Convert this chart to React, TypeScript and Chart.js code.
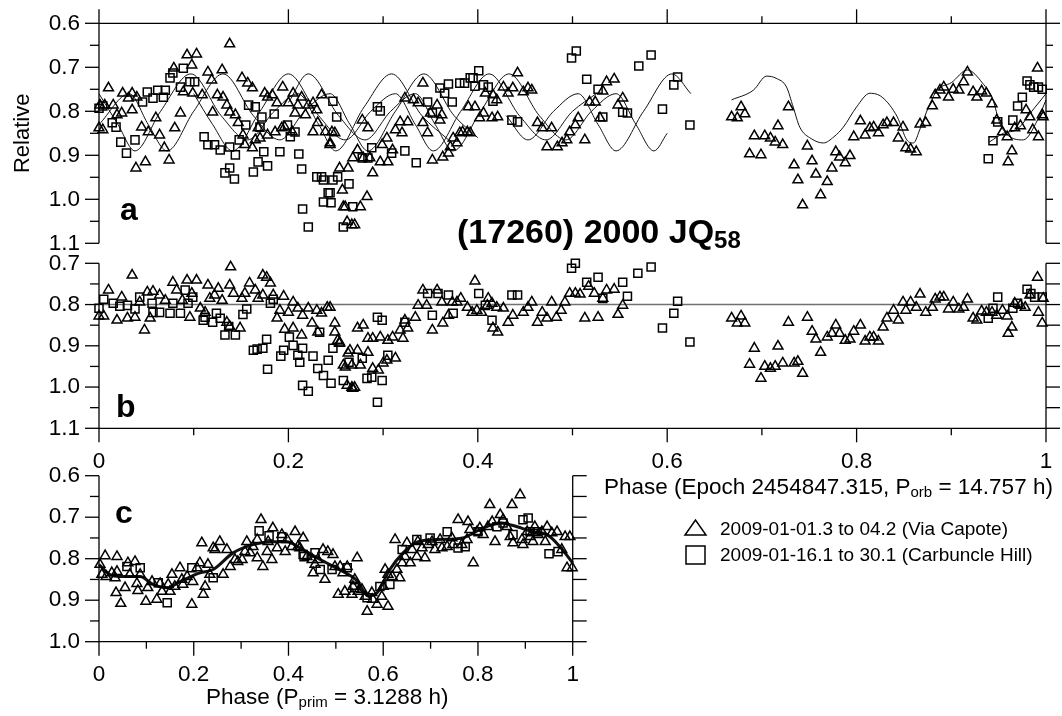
import React, { useEffect, useRef } from 'react';
import { Chart, registerables } from 'chart.js';

Chart.register(...registerables);

type Pt = [number, number];

const PAGE_W = 1062;
const PAGE_H = 716;
const FONT = "'Liberation Sans', Arial, Helvetica, sans-serif";

const seriesNames = ['2009-01-01.3 to 04.2 (Via Capote)', '2009-01-16.1 to 30.1 (Carbuncle Hill)'];
const titleMain = '(17260) 2000 JQ';
const titleSub = '58';
const yAxisTitle = 'Relative';
const panelLetters = ['a', 'b', 'c'];

const xMajorTicks = [0, 0.2, 0.4, 0.6, 0.8, 1];
const xTickLabels = ['0', '0.2', '0.4', '0.6', '0.8', '1'];
const xMinorTicks = [0.1, 0.3, 0.5, 0.7, 0.9];

const aYMajor = [0.6, 0.7, 0.8, 0.9, 1.0, 1.1];
const aYLabels = ['0.6', '0.7', '0.8', '0.9', '1.0', '1.1'];
const aYMinor = [0.65, 0.75, 0.85, 0.95, 1.05];
const bYMajor = [0.7, 0.8, 0.9, 1.0, 1.1];
const bYLabels = ['0.7', '0.8', '0.9', '1.0', '1.1'];
const bYMinor = [0.75, 0.85, 0.95, 1.05];
const cYMajor = [0.6, 0.7, 0.8, 0.9, 1.0];
const cYLabels = ['0.6', '0.7', '0.8', '0.9', '1.0'];
const cYMinor = [0.65, 0.75, 0.85, 0.95];
const bReferenceLevel = 0.8;

// ---------- Panel a: orbital phase, raw data ----------
const aTriangles: Pt[] = [
  [0.001, 0.786], [0.006, 0.786], [0.010, 0.747], [0.000, 0.838], [0.004, 0.842], [0.015, 0.786], [0.019, 0.808],
  [0.024, 0.804], [0.025, 0.759], [0.031, 0.770], [0.035, 0.759], [0.035, 0.797], [0.040, 0.768], [0.045, 0.836],
  [0.039, 0.929], [0.049, 0.915], [0.052, 0.847], [0.060, 0.815], [0.064, 0.854], [0.069, 0.883], [0.074, 0.911],
  [0.080, 0.838], [0.079, 0.702], [0.086, 0.804], [0.093, 0.672], [0.103, 0.670], [0.098, 0.695], [0.089, 0.756],
  [0.099, 0.759], [0.109, 0.763], [0.115, 0.711], [0.119, 0.729], [0.120, 0.802], [0.130, 0.706], [0.138, 0.647],
  [0.125, 0.763], [0.131, 0.768], [0.135, 0.786], [0.138, 0.802], [0.144, 0.808], [0.151, 0.724], [0.157, 0.736],
  [0.162, 0.747], [0.147, 0.826], [0.152, 0.854], [0.154, 0.876], [0.162, 0.883], [0.165, 0.865], [0.168, 0.838],
  [0.175, 0.759], [0.178, 0.768], [0.183, 0.763], [0.188, 0.781], [0.194, 0.745], [0.200, 0.781], [0.205, 0.759],
  [0.207, 0.804], [0.210, 0.786], [0.214, 0.768], [0.218, 0.808], [0.221, 0.786], [0.226, 0.781], [0.230, 0.797],
  [0.231, 0.826], [0.235, 0.763], [0.239, 0.847], [0.244, 0.876], [0.246, 0.847], [0.254, 0.929], [0.257, 0.979],
  [0.258, 1.017], [0.204, 0.847], [0.193, 0.838], [0.186, 0.847], [0.178, 0.854], [0.170, 0.861], [0.196, 0.836],
  [0.226, 0.847],
  [0.244, 0.872], [0.249, 0.849], [0.263, 0.929], [0.260, 1.017], [0.276, 1.017], [0.283, 0.994], [0.262, 1.051],
  [0.267, 1.058], [0.270, 1.058], [0.268, 0.906], [0.273, 0.888], [0.279, 0.906], [0.286, 0.906], [0.289, 0.940],
  [0.297, 0.915], [0.299, 0.876], [0.305, 0.915], [0.304, 0.861], [0.310, 0.888], [0.313, 0.842], [0.320, 0.849],
  [0.318, 0.824], [0.278, 0.820], [0.284, 0.838], [0.323, 0.770], [0.326, 0.824], [0.332, 0.774], [0.337, 0.781],
  [0.342, 0.736], [0.342, 0.826], [0.350, 0.804], [0.347, 0.849], [0.352, 0.911], [0.357, 0.786], [0.360, 0.820],
  [0.362, 0.808], [0.363, 0.904], [0.369, 0.895], [0.371, 0.881], [0.374, 0.861], [0.378, 0.872], [0.381, 0.849],
  [0.384, 0.847], [0.389, 0.847], [0.392, 0.849], [0.390, 0.790], [0.397, 0.790], [0.402, 0.815], [0.406, 0.804],
  [0.408, 0.759], [0.415, 0.815], [0.416, 0.763], [0.421, 0.813], [0.420, 0.774], [0.427, 0.745], [0.432, 0.759],
  [0.437, 0.747], [0.442, 0.713], [0.448, 0.756], [0.453, 0.747], [0.457, 0.752], [0.463, 0.826], [0.468, 0.838],
  [0.478, 0.838], [0.473, 0.881], [0.484, 0.881], [0.489, 0.872], [0.494, 0.865], [0.497, 0.847], [0.503, 0.831],
  [0.506, 0.815], [0.513, 0.865], [0.518, 0.779], [0.524, 0.779], [0.529, 0.815], [0.536, 0.733], [0.544, 0.727],
  [0.532, 0.754], [0.548, 0.786], [0.553, 0.770],
  [0.668, 0.813], [0.674, 0.815], [0.678, 0.790], [0.682, 0.806], [0.687, 0.897], [0.692, 0.856], [0.699, 0.899],
  [0.703, 0.856], [0.709, 0.861], [0.714, 0.870], [0.717, 0.833], [0.722, 0.876], [0.728, 0.790], [0.734, 0.922],
  [0.738, 0.956], [0.743, 1.013], [0.748, 0.879], [0.753, 0.913], [0.757, 0.943], [0.762, 0.990], [0.769, 0.960],
  [0.774, 0.929], [0.778, 0.892], [0.782, 0.904], [0.788, 0.917], [0.793, 0.901], [0.797, 0.858], [0.804, 0.822],
  [0.809, 0.854], [0.814, 0.838], [0.818, 0.836], [0.823, 0.849], [0.828, 0.831], [0.832, 0.826], [0.839, 0.826],
  [0.844, 0.861], [0.849, 0.836], [0.852, 0.883], [0.857, 0.886], [0.863, 0.892], [0.867, 0.829], [0.873, 0.826],
  [0.880, 0.788], [0.883, 0.763], [0.888, 0.752], [0.892, 0.745], [0.897, 0.768], [0.902, 0.750], [0.908, 0.752],
  [0.913, 0.733], [0.917, 0.711], [0.923, 0.756], [0.927, 0.768], [0.932, 0.754], [0.937, 0.759], [0.943, 0.783],
  [0.948, 0.820], [0.954, 0.847], [0.959, 0.858], [0.964, 0.890], [0.960, 0.915], [0.967, 0.838], [0.973, 0.833],
  [0.979, 0.797], [0.983, 0.813], [0.986, 0.842], [0.991, 0.702], [0.992, 0.858], [0.996, 0.808], [0.997, 0.813],
];

const aSquares: Pt[] = [
  [0.000, 0.793], [0.004, 0.788], [0.014, 0.826], [0.018, 0.836], [0.023, 0.870], [0.029, 0.895], [0.038, 0.865],
  [0.051, 0.756], [0.046, 0.779], [0.057, 0.770], [0.062, 0.752], [0.068, 0.768], [0.070, 0.752], [0.075, 0.724],
  [0.078, 0.713], [0.086, 0.745], [0.089, 0.702], [0.096, 0.733], [0.101, 0.733], [0.111, 0.858], [0.115, 0.876],
  [0.122, 0.876], [0.128, 0.888], [0.133, 0.940], [0.138, 0.929], [0.143, 0.954], [0.138, 0.881], [0.144, 0.899],
  [0.148, 0.865], [0.155, 0.831], [0.158, 0.786], [0.165, 0.790], [0.163, 0.938], [0.168, 0.915], [0.172, 0.813],
  [0.170, 0.836], [0.174, 0.892], [0.178, 0.924], [0.185, 0.806], [0.191, 0.892], [0.199, 0.831], [0.202, 0.858],
  [0.207, 0.847], [0.211, 0.897], [0.214, 0.931], [0.215, 1.022], [0.221, 1.063], [0.230, 0.949], [0.235, 0.949],
  [0.237, 0.956], [0.242, 0.985], [0.237, 1.006], [0.245, 1.008], [0.247, 0.956], [0.264, 0.965], [0.258, 1.063],
  [0.268, 1.017], [0.251, 0.813], [0.247, 0.777], [0.244, 0.985], [0.252, 0.949], [0.278, 0.906], [0.284, 0.906],
  [0.288, 0.883], [0.294, 0.790], [0.297, 0.799], [0.309, 0.895], [0.323, 0.890], [0.335, 0.917], [0.347, 0.779],
  [0.352, 0.804], [0.360, 0.747], [0.365, 0.759], [0.369, 0.738], [0.373, 0.779], [0.381, 0.736], [0.386, 0.736],
  [0.392, 0.724], [0.395, 0.724], [0.401, 0.708], [0.397, 0.743], [0.406, 0.740], [0.411, 0.745], [0.416, 0.777],
  [0.436, 0.820], [0.442, 0.824], [0.499, 0.679], [0.504, 0.663], [0.515, 0.727], [0.527, 0.750], [0.532, 0.813],
  [0.553, 0.802], [0.558, 0.804], [0.570, 0.697], [0.583, 0.672], [0.595, 0.795], [0.607, 0.740], [0.611, 0.722],
  [0.624, 0.831], [0.939, 0.908], [0.944, 0.867], [0.949, 0.824], [0.965, 0.820], [0.970, 0.788], [0.975, 0.768],
  [0.980, 0.731], [0.983, 0.740], [0.987, 0.745], [0.996, 0.750], [0.992, 0.745],
];

// model lightcurves of the primary, one per night
const aCurve1: Pt[] = [
  [0, 0.76], [0.02, 0.83], [0.038, 0.89], [0.065, 0.8], [0.097, 0.715], [0.129, 0.81], [0.157, 0.865], [0.185, 0.8],
  [0.21, 0.76], [0.232, 0.83], [0.25, 0.89], [0.28, 0.79], [0.309, 0.715], [0.341, 0.81], [0.369, 0.865],
];
const aCurve2: Pt[] = [
  [0, 0.83], [0.032, 0.76], [0.052, 0.83], [0.072, 0.89], [0.1, 0.8], [0.131, 0.715], [0.163, 0.81], [0.191, 0.865],
  [0.217, 0.8], [0.244, 0.76], [0.265, 0.83], [0.284, 0.89], [0.313, 0.8], [0.343, 0.715], [0.375, 0.81], [0.4, 0.86],
];
const aCurve3: Pt[] = [
  [0.1, 0.76], [0.12, 0.83], [0.141, 0.89], [0.17, 0.8], [0.2, 0.715], [0.232, 0.81], [0.26, 0.865], [0.287, 0.8],
  [0.313, 0.76], [0.334, 0.83], [0.353, 0.89], [0.382, 0.8], [0.412, 0.715], [0.444, 0.81], [0.472, 0.865],
  [0.5, 0.8], [0.525, 0.76],
];
const aCurve4: Pt[] = [
  [0.2, 0.78], [0.221, 0.715], [0.253, 0.81], [0.281, 0.865], [0.308, 0.8], [0.334, 0.76], [0.355, 0.83],
  [0.374, 0.89], [0.403, 0.8], [0.433, 0.715], [0.465, 0.81], [0.493, 0.865], [0.52, 0.8], [0.546, 0.76],
  [0.567, 0.83], [0.586, 0.89], [0.6, 0.85],
];
const aCurve5: Pt[] = [
  [0.43, 0.81], [0.453, 0.865], [0.48, 0.8], [0.506, 0.76], [0.527, 0.83], [0.546, 0.89], [0.575, 0.8],
  [0.605, 0.715], [0.625, 0.76],
];
const aCurve6: Pt[] = [
  [0.668, 0.774], [0.691, 0.752], [0.705, 0.72], [0.715, 0.725], [0.726, 0.745], [0.733, 0.79], [0.74, 0.836],
  [0.752, 0.862], [0.765, 0.872], [0.776, 0.858], [0.786, 0.836], [0.8, 0.79], [0.814, 0.759], [0.827, 0.768],
  [0.843, 0.813], [0.853, 0.865], [0.86, 0.872], [0.867, 0.84], [0.876, 0.79], [0.885, 0.752], [0.9, 0.735],
  [0.917, 0.706], [0.933, 0.736], [0.944, 0.774], [0.951, 0.826], [0.962, 0.858], [0.976, 0.865], [0.991, 0.82],
  [1.0, 0.774],
];
const aCurve7: Pt[] = [
  [0.94, 0.87], [0.955, 0.85], [0.97, 0.84], [0.985, 0.8], [1.0, 0.76],
];

// ---------- Panel b: primary removed ----------
const bTriangles: Pt[] = [
  [0.000, 0.828], [0.005, 0.828], [0.010, 0.765], [0.019, 0.838], [0.024, 0.782], [0.030, 0.833], [0.035, 0.729],
  [0.038, 0.831], [0.043, 0.794], [0.048, 0.862], [0.051, 0.770], [0.054, 0.833], [0.057, 0.768], [0.064, 0.777],
  [0.070, 0.790], [0.078, 0.746], [0.082, 0.765], [0.088, 0.790], [0.093, 0.741], [0.096, 0.831], [0.098, 0.773],
  [0.103, 0.741], [0.107, 0.809], [0.112, 0.819], [0.115, 0.753], [0.117, 0.785], [0.122, 0.777], [0.126, 0.761],
  [0.130, 0.790], [0.135, 0.843], [0.138, 0.853], [0.139, 0.709], [0.138, 0.753], [0.142, 0.773], [0.149, 0.857],
  [0.151, 0.785], [0.154, 0.773], [0.159, 0.748], [0.165, 0.765], [0.168, 0.785], [0.173, 0.729], [0.177, 0.734],
  [0.181, 0.748], [0.184, 0.777], [0.173, 0.777], [0.188, 0.833], [0.191, 0.814], [0.195, 0.780], [0.196, 0.860],
  [0.200, 0.819], [0.205, 0.794], [0.205, 0.857], [0.210, 0.809], [0.214, 0.874], [0.215, 0.826], [0.221, 0.809],
  [0.225, 0.845], [0.230, 0.814], [0.231, 0.867], [0.235, 0.821], [0.241, 0.807], [0.244, 0.807], [0.249, 0.845],
  [0.249, 0.867], [0.252, 0.887], [0.254, 0.894], [0.260, 0.952], [0.263, 0.918], [0.267, 0.947], [0.262, 0.996],
  [0.267, 1.001], [0.270, 1.001], [0.273, 0.857],
  [0.254, 0.891], [0.258, 0.947], [0.268, 1.003], [0.265, 0.911], [0.273, 0.911], [0.279, 0.850], [0.276, 0.947],
  [0.284, 0.882], [0.284, 0.916], [0.289, 0.882], [0.289, 0.955], [0.295, 0.959], [0.297, 0.879], [0.300, 0.942],
  [0.304, 0.935], [0.305, 0.887], [0.313, 0.930], [0.310, 0.879], [0.318, 0.862], [0.321, 0.882], [0.323, 0.838],
  [0.326, 0.857], [0.334, 0.831], [0.337, 0.802], [0.342, 0.765], [0.346, 0.802], [0.352, 0.862], [0.357, 0.765],
  [0.362, 0.794], [0.363, 0.845], [0.369, 0.826], [0.373, 0.794], [0.378, 0.794], [0.382, 0.785], [0.389, 0.807],
  [0.394, 0.819], [0.397, 0.743], [0.399, 0.814], [0.404, 0.819], [0.410, 0.802], [0.411, 0.785], [0.415, 0.797],
  [0.416, 0.857], [0.420, 0.807], [0.421, 0.867], [0.427, 0.809], [0.432, 0.843], [0.437, 0.826], [0.448, 0.819],
  [0.453, 0.807], [0.457, 0.794], [0.463, 0.843], [0.468, 0.819], [0.473, 0.833], [0.478, 0.794], [0.483, 0.831],
  [0.488, 0.814], [0.492, 0.794], [0.497, 0.773], [0.503, 0.773], [0.508, 0.775], [0.513, 0.833], [0.517, 0.756],
  [0.523, 0.773], [0.527, 0.831], [0.532, 0.785], [0.536, 0.765], [0.544, 0.763], [0.548, 0.824], [0.553, 0.802],
  [0.668, 0.833], [0.674, 0.845], [0.678, 0.828], [0.682, 0.845], [0.687, 0.945], [0.692, 0.906], [0.699, 0.979],
  [0.703, 0.950], [0.709, 0.955], [0.714, 0.950], [0.717, 0.901], [0.722, 0.942], [0.728, 0.843], [0.734, 0.942],
  [0.738, 0.938], [0.743, 0.967], [0.748, 0.831], [0.753, 0.865], [0.757, 0.884], [0.762, 0.916], [0.769, 0.879],
  [0.774, 0.870], [0.778, 0.850], [0.782, 0.870], [0.788, 0.887], [0.793, 0.884], [0.797, 0.865], [0.804, 0.850],
  [0.809, 0.889], [0.814, 0.879], [0.818, 0.879], [0.823, 0.889], [0.828, 0.855], [0.832, 0.833], [0.839, 0.814],
  [0.844, 0.838], [0.849, 0.794], [0.852, 0.814], [0.857, 0.794], [0.863, 0.807], [0.867, 0.775], [0.873, 0.819],
  [0.880, 0.807], [0.883, 0.787], [0.888, 0.782], [0.892, 0.782], [0.897, 0.811], [0.902, 0.794], [0.908, 0.811],
  [0.913, 0.807], [0.917, 0.787], [0.923, 0.833], [0.927, 0.838], [0.932, 0.816], [0.937, 0.819], [0.943, 0.819],
  [0.948, 0.826], [0.954, 0.814], [0.959, 0.828], [0.960, 0.870], [0.964, 0.855], [0.967, 0.797], [0.973, 0.802],
  [0.978, 0.807], [0.983, 0.777], [0.991, 0.734], [0.992, 0.819], [0.996, 0.845], [0.997, 0.785],
];

const bSquares: Pt[] = [
  [0.000, 0.809], [0.005, 0.787], [0.015, 0.797], [0.022, 0.804], [0.030, 0.802], [0.038, 0.811], [0.043, 0.782],
  [0.056, 0.797], [0.057, 0.819], [0.064, 0.819], [0.075, 0.821], [0.078, 0.797], [0.086, 0.821], [0.091, 0.765],
  [0.094, 0.797], [0.099, 0.782], [0.110, 0.838], [0.112, 0.831], [0.120, 0.843], [0.124, 0.821], [0.128, 0.833],
  [0.133, 0.874], [0.137, 0.853], [0.144, 0.874], [0.152, 0.824], [0.156, 0.811], [0.163, 0.911], [0.167, 0.908],
  [0.173, 0.906], [0.177, 0.884], [0.178, 0.957], [0.184, 0.787], [0.181, 0.797], [0.192, 0.925], [0.195, 0.911],
  [0.201, 0.879], [0.205, 0.899], [0.210, 0.923], [0.212, 0.940], [0.215, 0.906], [0.215, 0.996], [0.221, 1.010],
  [0.226, 0.925], [0.231, 0.955], [0.237, 0.972], [0.242, 0.935], [0.245, 0.991], [0.247, 0.906], [0.258, 0.984],
  [0.264, 0.940], [0.233, 0.867], [0.278, 0.930], [0.283, 0.979], [0.288, 0.976], [0.294, 1.037], [0.299, 0.984],
  [0.294, 0.831], [0.299, 0.838], [0.305, 0.923], [0.323, 0.843], [0.347, 0.773], [0.352, 0.826], [0.358, 0.773],
  [0.369, 0.777], [0.374, 0.821], [0.401, 0.773], [0.408, 0.802], [0.415, 0.838], [0.436, 0.777], [0.442, 0.777],
  [0.499, 0.712], [0.503, 0.700], [0.515, 0.746], [0.527, 0.734], [0.532, 0.785], [0.553, 0.746], [0.558, 0.780],
  [0.569, 0.724], [0.583, 0.709], [0.595, 0.857], [0.607, 0.821], [0.611, 0.792], [0.624, 0.891], [0.939, 0.833],
  [0.944, 0.809], [0.949, 0.782], [0.965, 0.809], [0.970, 0.797], [0.980, 0.763], [0.984, 0.773], [0.988, 0.782],
  [0.996, 0.782],
];

// ---------- Panel c: primary rotation phase ----------
const cTriangles: Pt[] = [
  [0.002, 0.814], [0.013, 0.793], [0.006, 0.838], [0.015, 0.843], [0.027, 0.834], [0.038, 0.795], [0.038, 0.831],
  [0.034, 0.846], [0.036, 0.882], [0.046, 0.908], [0.055, 0.870], [0.061, 0.810], [0.065, 0.838], [0.076, 0.807],
  [0.080, 0.860], [0.082, 0.877], [0.087, 0.838], [0.099, 0.903], [0.103, 0.870], [0.112, 0.855], [0.122, 0.898],
  [0.129, 0.860], [0.133, 0.879], [0.146, 0.862], [0.150, 0.879], [0.154, 0.838], [0.160, 0.867], [0.171, 0.822],
  [0.175, 0.850], [0.177, 0.862], [0.186, 0.843], [0.196, 0.910], [0.198, 0.855], [0.207, 0.822], [0.213, 0.810],
  [0.217, 0.762], [0.220, 0.886], [0.224, 0.867], [0.230, 0.814], [0.234, 0.838], [0.241, 0.774], [0.245, 0.778],
  [0.255, 0.759], [0.262, 0.838], [0.270, 0.778], [0.277, 0.819], [0.287, 0.802], [0.293, 0.807], [0.302, 0.802],
  [0.308, 0.783], [0.312, 0.759], [0.319, 0.786], [0.325, 0.771], [0.334, 0.754], [0.342, 0.706], [0.334, 0.798],
  [0.346, 0.819], [0.355, 0.783], [0.357, 0.759], [0.365, 0.802], [0.367, 0.726], [0.376, 0.774], [0.386, 0.742],
  [0.393, 0.783], [0.397, 0.754], [0.407, 0.771], [0.414, 0.735], [0.420, 0.771], [0.431, 0.750], [0.439, 0.795],
  [0.450, 0.802], [0.456, 0.814], [0.452, 0.834],
  [0.424, 0.774], [0.462, 0.802], [0.473, 0.778], [0.477, 0.850], [0.483, 0.783], [0.494, 0.790], [0.498, 0.819],
  [0.509, 0.819], [0.515, 0.834], [0.524, 0.819], [0.505, 0.886], [0.519, 0.879], [0.534, 0.886], [0.536, 0.867],
  [0.545, 0.798], [0.540, 0.850], [0.547, 0.879], [0.555, 0.874], [0.562, 0.891], [0.566, 0.927], [0.576, 0.882],
  [0.578, 0.898], [0.587, 0.910], [0.597, 0.891], [0.600, 0.867], [0.610, 0.915], [0.604, 0.826], [0.610, 0.838],
  [0.619, 0.843], [0.625, 0.754], [0.629, 0.826], [0.635, 0.846], [0.640, 0.810], [0.646, 0.795], [0.650, 0.762],
  [0.657, 0.810], [0.661, 0.778], [0.671, 0.795], [0.673, 0.759], [0.682, 0.774], [0.688, 0.798], [0.695, 0.766],
  [0.703, 0.759], [0.709, 0.778], [0.720, 0.754], [0.724, 0.774], [0.735, 0.771], [0.745, 0.750], [0.747, 0.766],
  [0.758, 0.706], [0.766, 0.766], [0.777, 0.754], [0.779, 0.711], [0.783, 0.730], [0.790, 0.810], [0.798, 0.735],
  [0.804, 0.726], [0.811, 0.742], [0.821, 0.723], [0.825, 0.670], [0.830, 0.711], [0.836, 0.759], [0.847, 0.694],
  [0.853, 0.706], [0.861, 0.723], [0.868, 0.747], [0.872, 0.670], [0.874, 0.762], [0.889, 0.646], [0.893, 0.754],
  [0.895, 0.766], [0.904, 0.735], [0.910, 0.747], [0.916, 0.759], [0.920, 0.723], [0.927, 0.742], [0.935, 0.735],
  [0.942, 0.759], [0.946, 0.723], [0.956, 0.738], [0.967, 0.735], [0.977, 0.778], [0.984, 0.747], [0.988, 0.822],
  [0.994, 0.747], [0.999, 0.822],
];

const cSquares: Pt[] = [
  [0.059, 0.819], [0.087, 0.822], [0.144, 0.906], [0.196, 0.822], [0.241, 0.846], [0.338, 0.733], [0.359, 0.745],
  [0.386, 0.747], [0.433, 0.795], [0.125, 0.858], [0.431, 0.790], [0.456, 0.786], [0.467, 0.826], [0.492, 0.826],
  [0.524, 0.822], [0.540, 0.870], [0.566, 0.894], [0.593, 0.867], [0.614, 0.862], [0.640, 0.778], [0.671, 0.754],
  [0.699, 0.750], [0.735, 0.735], [0.758, 0.774], [0.773, 0.771], [0.800, 0.735], [0.840, 0.723], [0.853, 0.714],
  [0.895, 0.706], [0.906, 0.702], [0.874, 0.742], [0.910, 0.735], [0.925, 0.735], [0.950, 0.788], [0.969, 0.783],
];

const cFit: Pt[] = [
  [0.0, 0.814], [0.023, 0.838], [0.044, 0.843], [0.087, 0.843], [0.114, 0.862], [0.144, 0.87], [0.171, 0.855],
  [0.213, 0.834], [0.241, 0.826], [0.283, 0.786], [0.325, 0.766], [0.367, 0.759], [0.397, 0.759], [0.424, 0.774],
  [0.467, 0.802], [0.515, 0.831], [0.545, 0.853], [0.568, 0.89], [0.587, 0.882], [0.614, 0.826], [0.642, 0.786],
  [0.671, 0.76], [0.714, 0.754], [0.768, 0.75], [0.804, 0.73], [0.847, 0.714], [0.874, 0.72], [0.916, 0.735],
  [0.946, 0.742], [0.973, 0.771], [1.0, 0.81],
];

// ---------- helpers ----------
const toXY = (arr: Pt[]) => arr.map(([x, y]) => ({ x, y }));

const triangleSet = (data: Pt[], label: string) => ({
  label,
  data: toXY(data),
  pointStyle: 'triangle',
  pointRadius: 5.7,
  pointBorderWidth: 1.5,
  borderColor: '#000',
  pointBorderColor: '#000',
  pointBackgroundColor: 'rgba(0,0,0,0)',
  backgroundColor: 'rgba(0,0,0,0)',
  showLine: false,
  clip: false,
});
const squareSet = (data: Pt[], label: string) => ({
  ...triangleSet(data, label),
  pointStyle: 'rect',
  pointRadius: 5.7,
});
const curveSet = (data: Pt[], width: number) => ({
  label: 'model',
  data: toXY(data),
  showLine: true,
  pointRadius: 0,
  borderWidth: width,
  borderColor: '#111',
  backgroundColor: 'rgba(0,0,0,0)',
  cubicInterpolationMode: 'monotone',
  clip: false,
});

interface PanelSpec {
  name: string;
  top: number;
  bottom: number;
  right: number;
  yMin: number;
  yMax: number;
  yMajor: number[];
  yLabels: string[];
  yMinor: number[];
  showXLabels: boolean;
  xTicksUp: boolean;
  topLine: boolean;
  bottomLine: boolean;
  rightLen: number;
  rightEndLen: number;
  refLine?: number;
  yTitle?: string;
  datasets: any[];
}

const LEFT = 99;
const X_AXIS_H = 45;

function framePlugin(spec: PanelSpec) {
  const line = (ctx: CanvasRenderingContext2D, x1: number, y1: number, x2: number, y2: number) => {
    ctx.beginPath();
    ctx.moveTo(x1, y1);
    ctx.lineTo(x2, y2);
    ctx.stroke();
  };
  return {
    id: 'frame-' + spec.name,
    beforeDatasetsDraw(chart: any) {
      if (spec.refLine === undefined) return;
      const { ctx, chartArea, scales } = chart;
      const p = scales.y.getPixelForValue(spec.refLine);
      ctx.save();
      ctx.strokeStyle = '#707070';
      ctx.lineWidth = 1.6;
      line(ctx, chartArea.left, p, chartArea.right, p);
      ctx.restore();
    },
    afterDraw(chart: any) {
      const { ctx, chartArea, scales } = chart;
      const { left, right, top, bottom } = chartArea;
      const xs = scales.x;
      const ys = scales.y;
      ctx.save();
      ctx.strokeStyle = '#000';
      ctx.lineWidth = 1.3;
      line(ctx, left, top, left, bottom);
      line(ctx, right, top, right, bottom);
      if (spec.topLine) line(ctx, left, top, right, top);
      if (spec.bottomLine) line(ctx, left, bottom, right, bottom);
      spec.yMajor.forEach((v, i) => {
        const p = ys.getPixelForValue(v);
        line(ctx, left - 14, p, left, p);
        const isEnd = i === 0 || i === spec.yMajor.length - 1;
        line(ctx, right, p, right + (isEnd ? spec.rightEndLen : spec.rightLen), p);
      });
      spec.yMinor.forEach((v) => {
        const p = ys.getPixelForValue(v);
        line(ctx, left - 9, p, left, p);
        line(ctx, right, p, right + spec.rightLen, p);
      });
      const base = spec.xTicksUp ? top : bottom;
      const dir = spec.xTicksUp ? -1 : 1;
      xMajorTicks.forEach((v) => {
        const p = xs.getPixelForValue(v);
        line(ctx, p, base, p, base + dir * 14);
      });
      xMinorTicks.forEach((v) => {
        const p = xs.getPixelForValue(v);
        line(ctx, p, base, p, base + dir * 7);
      });
      ctx.restore();
    },
  };
}

function buildConfig(spec: PanelSpec): any {
  const tickFont = { family: FONT, size: 22.5 };
  return {
    type: 'scatter',
    data: { datasets: spec.datasets },
    options: {
      responsive: false,
      animation: false,
      devicePixelRatio: 1,
      events: [],
      layout: {
        padding: {
          left: 0,
          top: spec.top,
          right: PAGE_W - spec.right,
          bottom: PAGE_H - spec.bottom - (spec.showXLabels ? X_AXIS_H : 0),
        },
      },
      plugins: { legend: { display: false }, tooltip: { enabled: false } },
      scales: {
        x: {
          type: 'linear',
          position: 'bottom',
          min: 0,
          max: 1,
          display: spec.showXLabels,
          grid: { display: false },
          border: { display: false },
          afterBuildTicks: (s: any) => {
            s.ticks = xMajorTicks.map((value) => ({ value }));
          },
          afterFit: (s: any) => {
            s.height = spec.showXLabels ? X_AXIS_H : 0;
            s.paddingLeft = 0;
            s.paddingRight = 0;
          },
          ticks: {
            autoSkip: false,
            maxRotation: 0,
            minRotation: 0,
            padding: 12,
            color: '#000',
            font: tickFont,
            callback: (_v: any, i: number) => xTickLabels[i],
          },
        },
        y: {
          type: 'linear',
          position: 'left',
          reverse: true,
          min: spec.yMin,
          max: spec.yMax,
          grid: { display: false },
          border: { display: false },
          afterBuildTicks: (s: any) => {
            s.ticks = spec.yMajor.map((value) => ({ value }));
          },
          afterFit: (s: any) => {
            s.width = LEFT;
            s.paddingTop = 0;
            s.paddingBottom = 0;
          },
          ticks: {
            autoSkip: false,
            padding: 11,
            color: '#000',
            font: tickFont,
            callback: (_v: any, i: number) => spec.yLabels[i],
          },
          title: spec.yTitle
            ? { display: true, text: spec.yTitle, color: '#000', font: { family: FONT, size: 22 }, padding: { top: 10, bottom: 0 } }
            : { display: false },
        },
      },
    },
    plugins: [framePlugin(spec)],
  };
}

const panelA: PanelSpec = {
  name: 'a',
  top: 23.3,
  bottom: 243.3,
  right: 1046,
  yMin: 0.6,
  yMax: 1.1,
  yMajor: aYMajor,
  yLabels: aYLabels,
  yMinor: aYMinor,
  showXLabels: false,
  xTicksUp: true,
  topLine: true,
  bottomLine: false,
  rightLen: 7,
  rightEndLen: 14,
  yTitle: yAxisTitle,
  datasets: [
    triangleSet(aTriangles, seriesNames[0]),
    squareSet(aSquares, seriesNames[1]),
    curveSet(aCurve1, 1),
    curveSet(aCurve2, 1),
    curveSet(aCurve3, 1),
    curveSet(aCurve4, 1),
    curveSet(aCurve5, 1),
    curveSet(aCurve6, 1),
    curveSet(aCurve7, 1),
  ],
};

const panelB: PanelSpec = {
  name: 'b',
  top: 263.3,
  bottom: 428.3,
  right: 1046,
  yMin: 0.7,
  yMax: 1.1,
  yMajor: bYMajor,
  yLabels: bYLabels,
  yMinor: bYMinor,
  showXLabels: true,
  xTicksUp: false,
  topLine: false,
  bottomLine: true,
  rightLen: 14,
  rightEndLen: 14,
  refLine: bReferenceLevel,
  datasets: [triangleSet(bTriangles, seriesNames[0]), squareSet(bSquares, seriesNames[1])],
};

const panelC: PanelSpec = {
  name: 'c',
  top: 475.7,
  bottom: 641.7,
  right: 572.7,
  yMin: 0.6,
  yMax: 1.0,
  yMajor: cYMajor,
  yLabels: cYLabels,
  yMinor: cYMinor,
  showXLabels: true,
  xTicksUp: false,
  topLine: false,
  bottomLine: true,
  rightLen: 14,
  rightEndLen: 14,
  datasets: [triangleSet(cTriangles, seriesNames[0]), squareSet(cSquares, seriesNames[1]), curveSet(cFit, 3)],
};

function Panel({ spec }: { spec: PanelSpec }) {
  const ref = useRef<HTMLCanvasElement | null>(null);
  useEffect(() => {
    if (!ref.current) return;
    const chart = new Chart(ref.current, buildConfig(spec));
    return () => chart.destroy();
  }, [spec]);
  return (
    <canvas
      ref={ref}
      width={PAGE_W}
      height={PAGE_H}
      style={{ position: 'absolute', left: 0, top: 0, width: PAGE_W, height: PAGE_H }}
    />
  );
}

function Txt({ x, baseline, size, bold, children }: { x: number; baseline: number; size: number; bold?: boolean; children: any }) {
  return (
    <div
      style={{
        position: 'absolute',
        left: x,
        top: baseline - size * 0.8465,
        fontFamily: FONT,
        fontSize: size,
        fontWeight: bold ? 700 : 400,
        lineHeight: 1,
        whiteSpace: 'nowrap',
        color: '#000',
      }}
    >
      {children}
    </div>
  );
}

const Sub = ({ size, shift, children }: { size: number; shift: number; children: any }) => (
  <span style={{ fontSize: size, position: 'relative', top: shift }}>{children}</span>
);

export default function App() {
  return (
    <div style={{ position: 'absolute', left: 0, top: 0, width: PAGE_W, height: PAGE_H, background: '#fff', overflow: 'hidden' }}>
      <Panel spec={panelA} />
      <Panel spec={panelB} />
      <Panel spec={panelC} />
      <Txt x={457} baseline={243} size={34} bold>
        {titleMain}
        <Sub size={24} shift={5}>{titleSub}</Sub>
      </Txt>
      <Txt x={120} baseline={220} size={32} bold>{panelLetters[0]}</Txt>
      <Txt x={116} baseline={417} size={32} bold>{panelLetters[1]}</Txt>
      <Txt x={115} baseline={523} size={32} bold>{panelLetters[2]}</Txt>
      <Txt x={604} baseline={495} size={22.5}>
        Phase (Epoch 2454847.315, P<Sub size={15} shift={3}>orb</Sub> = 14.757 h)
      </Txt>
      <Txt x={206} baseline={705} size={22.5}>
        Phase (P<Sub size={15} shift={3}>prim</Sub> = 3.1288 h)
      </Txt>
      <svg width={PAGE_W} height={PAGE_H} style={{ position: 'absolute', left: 0, top: 0 }}>
        <polygon points="685,535 706,535 695.5,520" fill="none" stroke="#000" strokeWidth={1.5} />
        <rect x={686} y={546} width={19} height={18} fill="none" stroke="#000" strokeWidth={1.5} />
      </svg>
      <Txt x={720} baseline={535} size={19}>{seriesNames[0]}</Txt>
      <Txt x={720} baseline={561} size={19}>{seriesNames[1]}</Txt>
    </div>
  );
}
